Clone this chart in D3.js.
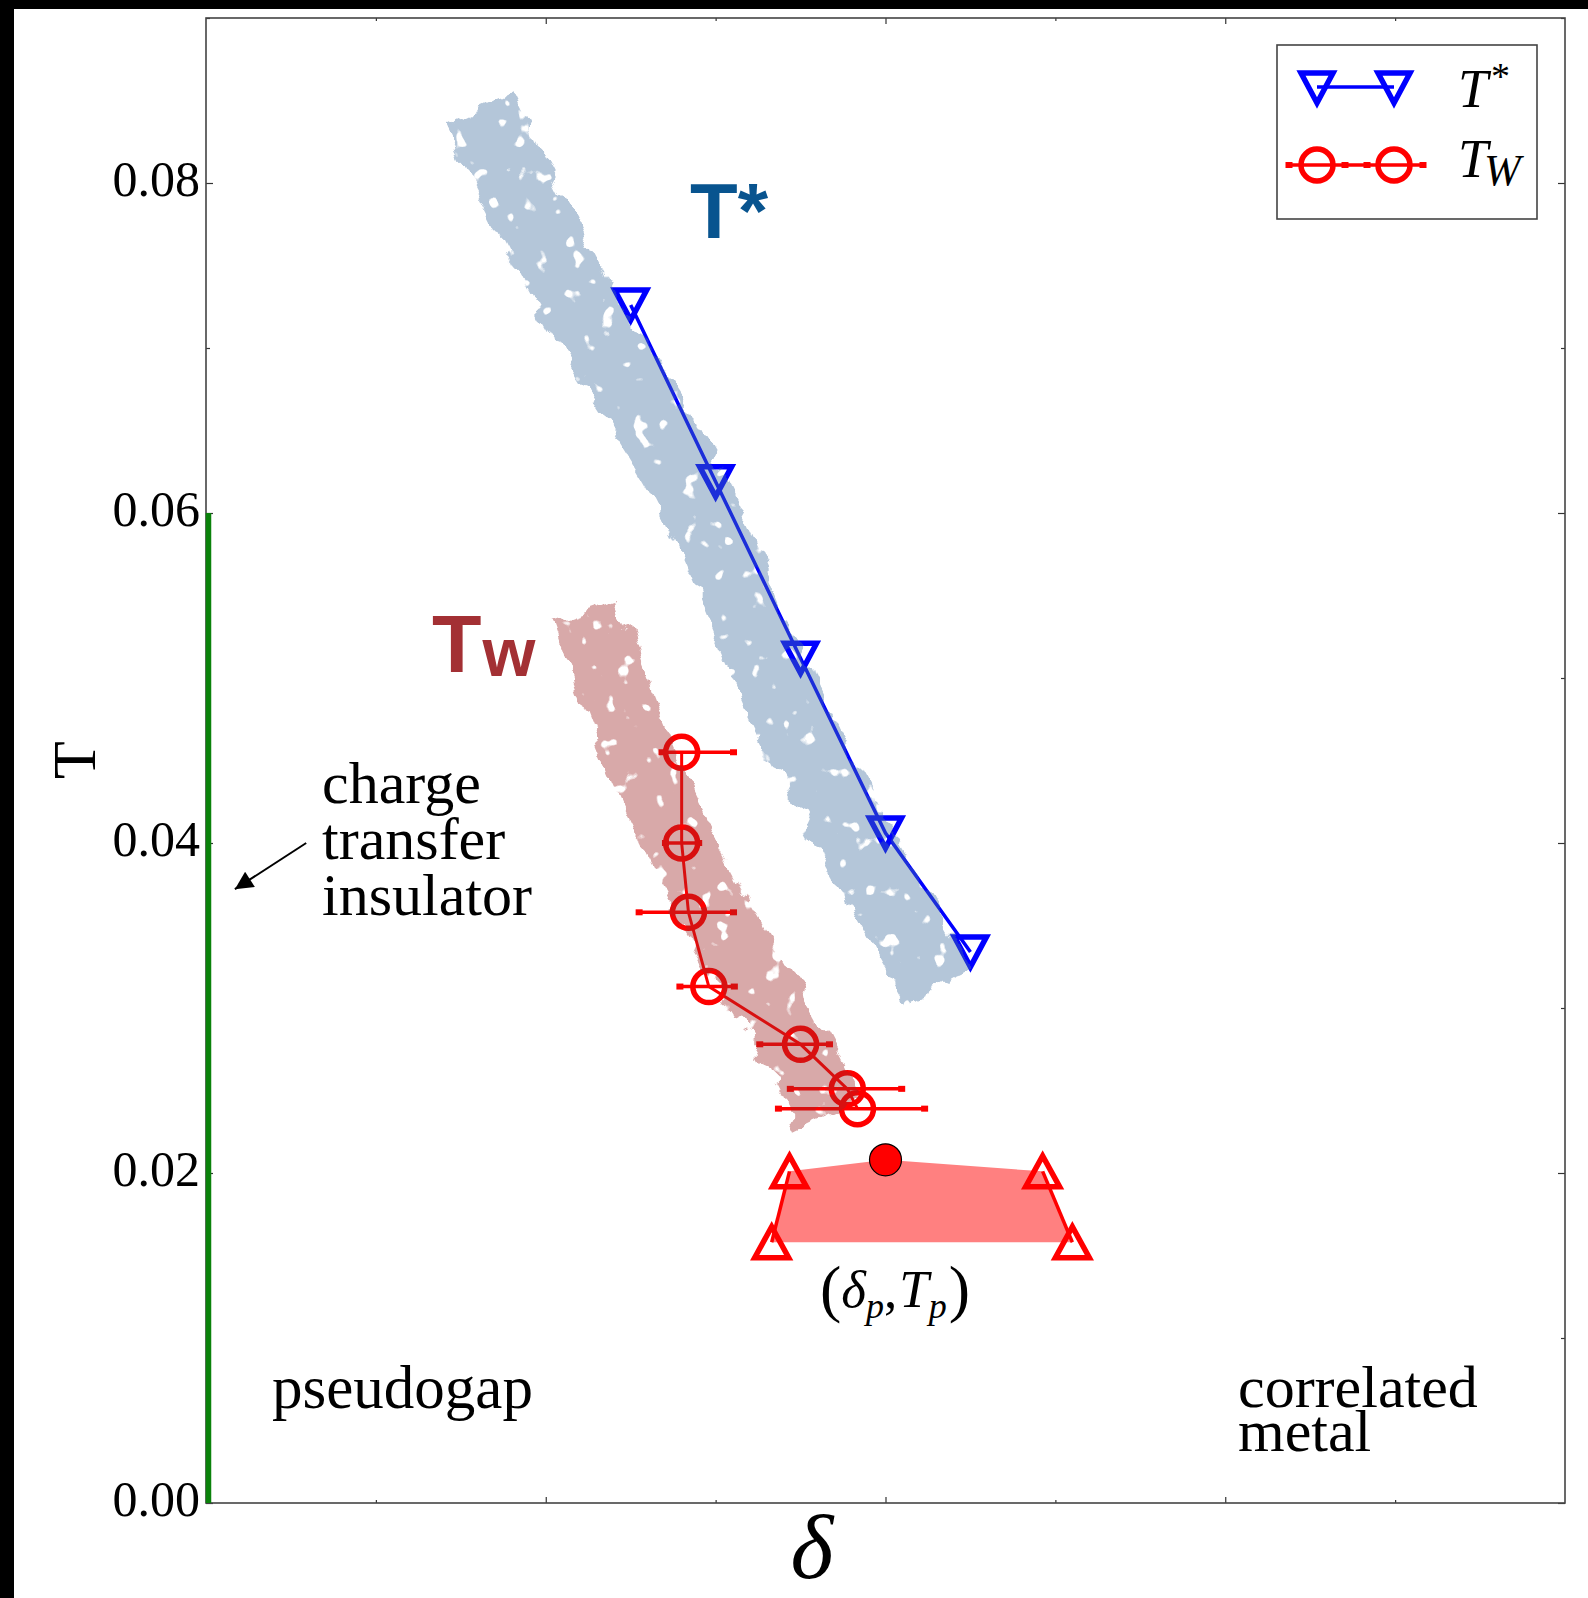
<!DOCTYPE html>
<html>
<head>
<meta charset="utf-8">
<script src="https://cdn.jsdelivr.net/npm/d3@7"></script>
<style>
  html, body { margin: 0; padding: 0; background: #fff; }
  svg { display: block; }
</style>
</head>
<body>
<div id="chart"></div>
<script>
// ── Data ────────────────────────────────────────────────────────────────────
const tStarDelta = [0.05, 0.06, 0.07, 0.08, 0.09];
const tStarT = [0.0726, 0.0619, 0.0512, 0.0406, 0.0334];

const twDelta = [0.0560, 0.0560, 0.0568, 0.0592, 0.0700, 0.0755, 0.0767];
const twT = [0.0455, 0.0400, 0.0358, 0.0313, 0.0278, 0.0251, 0.0239];
const twErrLo = [0.0534, 0.0538, 0.0507, 0.0555, 0.0649, 0.0685, 0.0671];
const twErrHi = [0.0624, 0.0583, 0.0624, 0.0625, 0.0737, 0.0822, 0.0849];

// shaded peak region: left pair, apex point, right pair
const peakLeftDelta = [0.0687, 0.0666];
const peakLeftT = [0.0201, 0.0158];
const peakRightDelta = [0.0985, 0.1020];
const peakRightT = [0.0201, 0.0158];
const peakPointDelta = [0.0800];
const peakPointT = [0.0208];

// hand-drawn guide bands (centre lines)
const blueBandDelta = [0.0322, 0.0435, 0.0569, 0.0691, 0.0862];
const blueBandT = [0.0844, 0.0729, 0.0616, 0.0473, 0.0313];
const brownBandDelta = [0.0447, 0.0508, 0.0593, 0.0685, 0.0733];
const brownBandT = [0.0541, 0.0456, 0.0365, 0.0285, 0.0236];

// charge transfer insulator segment on the δ = 0 axis
const ctiT = [0, 0.06];
// arrow: tail -> head
const arrowDelta = [0.0118, 0.0034];
const arrowT = [0.0400, 0.0372];

const yTicks = [0, 0.02, 0.04, 0.06, 0.08];
const yMinor = [0.01, 0.03, 0.05, 0.07, 0.09];
const xTicks = [0.04, 0.08, 0.12];
const xMinor = [0.02, 0.06, 0.10, 0.14];

// ── Layout ──────────────────────────────────────────────────────────────────
const W = 1588, H = 1598;
const plot = { left: 206, right: 1565, top: 18, bottom: 1503 };
const serif = "'Liberation Serif', 'Times New Roman', serif";
const sans = "'Liberation Sans', Arial, sans-serif";

const x = d3.scaleLinear().domain([0, 0.16]).range([plot.left, plot.right]);
const y = d3.scaleLinear().domain([0, 0.09]).range([plot.bottom, plot.top]);

const svg = d3.select("#chart").append("svg")
  .attr("width", W).attr("height", H)
  .attr("viewBox", `0 0 ${W} ${H}`);

svg.append("rect").attr("width", W).attr("height", H).attr("fill", "#fff");
// black strips on the left/top edge of the reference
svg.append("rect").attr("x", 0).attr("y", 0).attr("width", 14).attr("height", H).attr("fill", "#000");
svg.append("rect").attr("x", 0).attr("y", 0).attr("width", W).attr("height", 9).attr("fill", "#000");

// ── Filter giving the bands their ragged, speckled look
const defs = svg.append("defs");
const filt = defs.append("filter")
  .attr("id", "rough")
  .attr("filterUnits", "userSpaceOnUse")
  .attr("x", 0).attr("y", 0).attr("width", W).attr("height", H)
  .attr("color-interpolation-filters", "sRGB");
filt.append("feTurbulence")
  .attr("type", "fractalNoise").attr("baseFrequency", 0.035)
  .attr("numOctaves", 3).attr("seed", 7).attr("result", "warp");
filt.append("feDisplacementMap")
  .attr("in", "SourceGraphic").attr("in2", "warp").attr("scale", 24)
  .attr("xChannelSelector", "R").attr("yChannelSelector", "G").attr("result", "shape");
filt.append("feTurbulence")
  .attr("type", "fractalNoise").attr("baseFrequency", 0.06)
  .attr("numOctaves", 2).attr("seed", 3).attr("result", "spots");
filt.append("feColorMatrix")
  .attr("in", "spots").attr("type", "matrix")
  .attr("values", "0 0 0 0 0  0 0 0 0 0  0 0 0 0 0  16 0 0 0 -10.7")
  .attr("result", "holes");
filt.append("feComposite")
  .attr("in", "shape").attr("in2", "holes").attr("operator", "out");

const g = svg.append("g");

// ── Peak region (filled polygon + triangle pairs)
const peakPoly = [
  [peakLeftDelta[0], peakLeftT[0]],
  [peakPointDelta[0], peakPointT[0]],
  [peakRightDelta[0], peakRightT[0]],
  [peakRightDelta[1], peakRightT[1]],
  [peakLeftDelta[1], peakLeftT[1]],
];
g.append("path")
  .attr("d", d3.line().x(d => x(d[0])).y(d => y(d[1]))(peakPoly) + "Z")
  .attr("fill", "#ff8080");

const line = d3.line().x(d => x(d[0])).y(d => y(d[1]));
[[peakLeftDelta, peakLeftT], [peakRightDelta, peakRightT]].forEach(([dx, dt]) => {
  g.append("path")
    .attr("d", line(d3.zip(dx, dt)))
    .attr("fill", "none").attr("stroke", "#ff0000").attr("stroke-width", 3.5);
});

// ── T* series
const tStar = d3.zip(tStarDelta, tStarT);
g.append("path")
  .attr("d", line(tStar))
  .attr("fill", "none").attr("stroke", "#0000ff").attr("stroke-width", 3.5);

const downTri = "M-16,-15 L16,-15 L0,15 Z";
const upTri = "M-17,15.5 L17,15.5 L0,-15.5 Z";

g.append("g").selectAll("path")
  .data(tStar).join("path")
  .attr("d", downTri)
  .attr("transform", d => `translate(${x(d[0])},${y(d[1])})`)
  .attr("fill", "none").attr("stroke", "#0000ff")
  .attr("stroke-width", 5.5).attr("stroke-linejoin", "miter");

// ── T_W series with horizontal error bars
const tw = twDelta.map((d, i) => ({ d, t: twT[i], lo: twErrLo[i], hi: twErrHi[i] }));
const errG = g.append("g").attr("fill", "#ff0000").attr("stroke", "#ff0000");
errG.selectAll("line").data(tw).join("line")
  .attr("x1", d => x(d.lo)).attr("x2", d => x(d.hi))
  .attr("y1", d => y(d.t)).attr("y2", d => y(d.t))
  .attr("stroke-width", 3.5);
errG.selectAll("rect.capl").data(tw).join("rect").attr("class", "capl")
  .attr("x", d => x(d.lo) - 1).attr("y", d => y(d.t) - 3)
  .attr("width", 7).attr("height", 6).attr("stroke", "none");
errG.selectAll("rect.caph").data(tw).join("rect").attr("class", "caph")
  .attr("x", d => x(d.hi) - 6).attr("y", d => y(d.t) - 3)
  .attr("width", 7).attr("height", 6).attr("stroke", "none");

g.append("path")
  .attr("d", d3.line().x(d => x(d.d)).y(d => y(d.t))(tw))
  .attr("fill", "none").attr("stroke", "#ff0000").attr("stroke-width", 3);

g.append("g").selectAll("circle")
  .data(tw).join("circle")
  .attr("cx", d => x(d.d)).attr("cy", d => y(d.t)).attr("r", 16)
  .attr("fill", "none").attr("stroke", "#ff0000").attr("stroke-width", 5.5);

// ── Guide bands (semi-transparent, drawn over the markers)
const bandLine = d3.line().curve(d3.curveCatmullRom).x(d => x(d[0])).y(d => y(d[1]));
g.append("g").attr("filter", "url(#rough)").attr("opacity", 0.4)
  .append("path")
  .attr("d", bandLine(d3.zip(blueBandDelta, blueBandT)))
  .attr("fill", "none").attr("stroke", "rgb(70,115,162)")
  .attr("stroke-width", 74).attr("stroke-linecap", "butt");
g.append("g").attr("filter", "url(#rough)").attr("opacity", 0.4)
  .append("path")
  .attr("d", bandLine(d3.zip(brownBandDelta, brownBandT)))
  .attr("fill", "none").attr("stroke", "rgb(160,42,42)")
  .attr("stroke-width", 70).attr("stroke-linecap", "butt");

// ── Peak markers on top
g.append("g").selectAll("path")
  .data(d3.zip(peakLeftDelta.concat(peakRightDelta), peakLeftT.concat(peakRightT)))
  .join("path")
  .attr("d", upTri)
  .attr("transform", d => `translate(${x(d[0])},${y(d[1])})`)
  .attr("fill", "none").attr("stroke", "#ff0000")
  .attr("stroke-width", 5.5).attr("stroke-linejoin", "miter");

g.append("g").selectAll("circle")
  .data(d3.zip(peakPointDelta, peakPointT)).join("circle")
  .attr("cx", d => x(d[0])).attr("cy", d => y(d[1])).attr("r", 16)
  .attr("fill", "#ff0000").attr("stroke", "#000").attr("stroke-width", 1.2);

// ── Axes (ticks point inward, only the left one is labelled)
const axisG = svg.append("g").attr("font-family", serif);

function styleAxis(sel) {
  sel.select(".domain").remove();
  sel.selectAll(".tick line").attr("stroke", "#333").attr("stroke-width", 1.2);
}

axisG.append("g").attr("transform", `translate(${plot.left},0)`)
  .call(d3.axisLeft(y).tickValues(yTicks).tickSize(-7).tickPadding(6)
    .tickFormat(d3.format(".2f")))
  .call(styleAxis)
  .call(s => s.selectAll("text")
    .attr("font-family", serif).attr("font-size", 50)
    .attr("fill", "#000").attr("dy", "0.24em"));
axisG.append("g").attr("transform", `translate(${plot.left},0)`)
  .call(d3.axisLeft(y).tickValues(yMinor).tickSize(-4).tickFormat(""))
  .call(styleAxis);
axisG.append("g").attr("transform", `translate(${plot.right},0)`)
  .call(d3.axisRight(y).tickValues(yTicks).tickSize(-7).tickFormat(""))
  .call(styleAxis);
axisG.append("g").attr("transform", `translate(${plot.right},0)`)
  .call(d3.axisRight(y).tickValues(yMinor).tickSize(-4).tickFormat(""))
  .call(styleAxis);
axisG.append("g").attr("transform", `translate(0,${plot.bottom})`)
  .call(d3.axisBottom(x).tickValues(xTicks).tickSize(-6).tickFormat(""))
  .call(styleAxis);
axisG.append("g").attr("transform", `translate(0,${plot.bottom})`)
  .call(d3.axisBottom(x).tickValues(xMinor).tickSize(-3).tickFormat(""))
  .call(styleAxis);
axisG.append("g").attr("transform", `translate(0,${plot.top})`)
  .call(d3.axisTop(x).tickValues(xTicks).tickSize(-6).tickFormat(""))
  .call(styleAxis);
axisG.append("g").attr("transform", `translate(0,${plot.top})`)
  .call(d3.axisTop(x).tickValues(xMinor).tickSize(-3).tickFormat(""))
  .call(styleAxis);

// frame
svg.append("rect")
  .attr("x", plot.left).attr("y", plot.top)
  .attr("width", plot.right - plot.left).attr("height", plot.bottom - plot.top)
  .attr("fill", "none").attr("stroke", "#444").attr("stroke-width", 1.6);

// ── Green charge-transfer-insulator segment (over the frame line)
svg.append("line")
  .attr("x1", x(0) + 2.5).attr("x2", x(0) + 2.5)
  .attr("y1", y(ctiT[0])).attr("y2", y(ctiT[1]))
  .attr("stroke", "#0b820b").attr("stroke-width", 5.5);

// axis titles
svg.append("text")
  .attr("transform", `translate(95,760) rotate(-90)`)
  .attr("text-anchor", "middle")
  .attr("font-family", serif).attr("font-size", 62)
  .text("T");
svg.append("text")
  .attr("x", 812).attr("y", 1578)
  .attr("text-anchor", "middle")
  .attr("font-family", serif).attr("font-style", "italic").attr("font-size", 92)
  .text("δ");

// ── Annotations
const ann = svg.append("g").attr("font-family", serif).attr("fill", "#000");

ann.append("text").attr("x", 690).attr("y", 238)
  .attr("font-family", sans).attr("font-weight", "bold").attr("font-size", 78)
  .attr("fill", "rgb(8,84,143)")
  .text("T*");

const twLbl = ann.append("text").attr("x", 432).attr("y", 672)
  .attr("font-family", sans).attr("font-weight", "bold").attr("font-size", 81)
  .attr("fill", "rgb(163,48,52)");
twLbl.append("tspan").text("T");
twLbl.append("tspan").attr("dx", 1).attr("dy", 4).attr("font-size", 68).text("w");

["charge", "transfer", "insulator"].forEach((s, i) => {
  ann.append("text").attr("x", 322).attr("y", 803 + i * 56)
    .attr("font-size", 60).text(s);
});

ann.append("text").attr("x", 272).attr("y", 1408).attr("font-size", 61).text("pseudogap");
ann.append("text").attr("x", 1238).attr("y", 1407).attr("font-size", 60).text("correlated");
ann.append("text").attr("x", 1238).attr("y", 1451).attr("font-size", 60).text("metal");

const pk = ann.append("text").attr("x", 820).attr("y", 1307).attr("font-size", 53);
pk.append("tspan").attr("font-size", 64).attr("dy", 3).text("(");
pk.append("tspan").attr("font-style", "italic").attr("dy", -3).text("δ");
pk.append("tspan").attr("font-style", "italic").attr("font-size", 36).attr("dy", 11).text("p");
pk.append("tspan").attr("dy", -11).text(",");
pk.append("tspan").attr("font-style", "italic").attr("dx", 2).text("T");
pk.append("tspan").attr("font-style", "italic").attr("font-size", 36).attr("dy", 11).text("p");
pk.append("tspan").attr("font-size", 64).attr("dx", 2).attr("dy", -8).text(")");

// arrow to the insulating segment
defs.append("marker")
  .attr("id", "arrowhead")
  .attr("viewBox", "0 -5 10 10")
  .attr("refX", 10).attr("refY", 0)
  .attr("orient", "auto")
  .attr("markerUnits", "userSpaceOnUse")
  .attr("markerWidth", 28).attr("markerHeight", 18)
  .append("path")
  .attr("d", "M0,-5 L10,0 L0,5 Z")
  .attr("fill", "#000");
ann.append("line")
  .attr("x1", x(arrowDelta[0])).attr("y1", y(arrowT[0]))
  .attr("x2", x(arrowDelta[1])).attr("y2", y(arrowT[1]))
  .attr("stroke", "#000").attr("stroke-width", 2)
  .attr("marker-end", "url(#arrowhead)");

// ── Legend
const lg = svg.append("g");
lg.append("rect")
  .attr("x", 1277).attr("y", 45).attr("width", 260).attr("height", 174)
  .attr("fill", "#fff").attr("stroke", "#444").attr("stroke-width", 1.6);

const lgX = [1317, 1394];
lg.append("line").attr("x1", lgX[0]).attr("x2", lgX[1]).attr("y1", 87).attr("y2", 87)
  .attr("stroke", "#0000ff").attr("stroke-width", 3.5);
lg.selectAll("path.lgtri").data(lgX).join("path").attr("class", "lgtri")
  .attr("d", downTri)
  .attr("transform", d => `translate(${d},88)`)
  .attr("fill", "none").attr("stroke", "#0000ff").attr("stroke-width", 5.5);

lg.append("line").attr("x1", 1288).attr("x2", 1424).attr("y1", 165).attr("y2", 165)
  .attr("stroke", "#ff0000").attr("stroke-width", 3.5);
lg.selectAll("rect.lgcap").data([1289, 1345, 1367, 1423]).join("rect").attr("class", "lgcap")
  .attr("x", d => d - 3.5).attr("y", 162).attr("width", 7).attr("height", 6)
  .attr("fill", "#ff0000");
lg.selectAll("circle").data(lgX).join("circle")
  .attr("cx", d => d).attr("cy", 165).attr("r", 16)
  .attr("fill", "none").attr("stroke", "#ff0000").attr("stroke-width", 5.5);

const l1 = lg.append("text").attr("x", 1458).attr("y", 107)
  .attr("font-family", serif).attr("font-style", "italic").attr("font-size", 54);
l1.append("tspan").text("T");
l1.append("tspan").attr("font-style", "normal").attr("font-size", 38).attr("dx", 3).attr("dy", -18).text("*");

const l2 = lg.append("text").attr("x", 1458).attr("y", 177)
  .attr("font-family", serif).attr("font-style", "italic").attr("font-size", 54);
l2.append("tspan").text("T");
l2.append("tspan").attr("font-size", 44).attr("dx", -4).attr("dy", 8).text("W");
</script>
</body>
</html>
